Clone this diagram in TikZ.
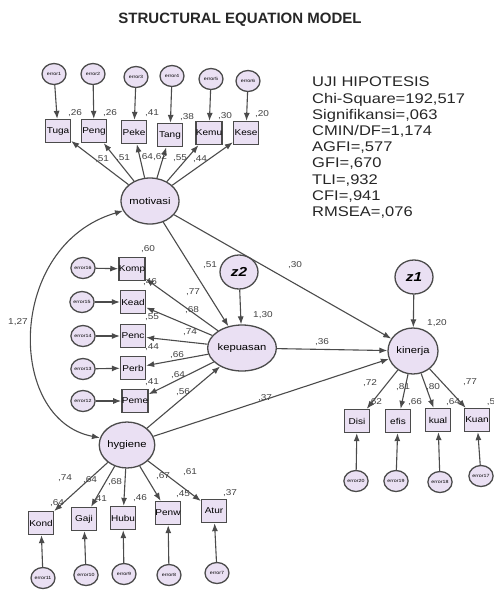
\documentclass[tikz,border=0pt]{standalone}
\usepackage{fontspec}
\setmainfont{Liberation Sans}[FakeStretch=1.18]
\newfontfamily\titlefont{Liberation Sans}
\usetikzlibrary{arrows.meta,shapes.geometric}
\definecolor{amosfill}{RGB}{234,224,243}
\definecolor{amosline}{RGB}{75,75,75}
\begin{document}
\begin{tikzpicture}[x=1pt, y=-1pt, >={Latex[length=8pt,width=6pt]},
    lat/.style={ellipse, draw=amosline, fill=amosfill, line width=1.3pt, minimum width=50pt, minimum height=46pt, inner sep=0pt, font=\fontsize{9.5}{9.5}\selectfont},
    res/.style={ellipse, draw=amosline, fill=amosfill, line width=1.3pt, minimum width=38pt, minimum height=34pt, inner sep=0pt, font=\fontsize{13}{13}\selectfont\bfseries\itshape},
    ind/.style={rectangle, draw=amosline, fill=amosfill, line width=1.3pt, minimum width=25pt, minimum height=23pt, inner sep=0pt, font=\fontsize{8.5}{8.5}\selectfont},
    err/.style={ellipse, draw=amosline, fill=amosfill, line width=1.3pt, minimum width=24pt, minimum height=21pt, inner sep=0pt, font=\fontsize{4.5}{4.5}\selectfont},
    lbl/.style={font=\fontsize{8.5}{8.5}\selectfont, text=black!75, inner sep=0pt},
    link/.style={->, draw=amosline, line width=1.1pt}]

  \useasboundingbox (0,0) rectangle (494,590);

  % ---------------- title and fit indices ----------------
  \node[font=\titlefont\bfseries\fontsize{15}{15}\selectfont, text=black!85] (title) at (240,20) {STRUCTURAL EQUATION MODEL};
  \node[anchor=north west, inner sep=0pt, align=left, font=\fontsize{14}{16.2}\selectfont, text=black!85] (fit) at (312,77)
    {UJI HIPOTESIS\\Chi-Square=192,517\\Signifikansi=,063\\CMIN/DF=1,174\\AGFI=,577\\GFI=,670\\TLI=,932\\CFI=,941\\RMSEA=,076};

  % ---------------- latent variables ----------------
  \node[lat] (motivasi) at (150,201) {motivasi};
  \node[lat] (kepuasan) at (242,348) {kepuasan};
  \node[lat] (kinerja)  at (413,351) {kinerja};
  \node[lat] (hygiene)  at (127,445) {hygiene};
  \node[res] (z2) at (239,272) {z2};
  \node[res] (z1) at (414,277) {z1};

  % ---------------- motivasi indicators ----------------
  \foreach \n/\x/\y/\ex/\ey/\k in {Tuga/58/131/54/74/1, Peng/94/131/93/74/2, Peke/134/132/136/77/3,
      Tang/170/135/172/76/4, Kemu/209/133/211/79/5, Kese/246/133/248/81/6} {
    \node[ind] (\n) at (\x,\y) {\n};
    \node[err] (error\k) at (\ex,\ey) {error\k};
    \draw[link] (error\k) -- (\n);
    \draw[link] (motivasi) -- (\n);
  }

  % ---------------- kepuasan indicators ----------------
  \foreach \n/\x/\y/\ex/\ey/\k in {Komp/132/269/83/268/16, Kead/133/302/82/302/15, Penc/133/336/83/336/14,
      Perb/133/368/83/369/13, Peme/135/401/83/401/12} {
    \node[ind] (\n) at (\x,\y) {\n};
    \node[err] (error\k) at (\ex,\ey) {error\k};
    \draw[link] (error\k) -- (\n);
    \draw[link] (kepuasan) -- (\n);
  }

  % ---------------- kinerja indicators ----------------
  \foreach \n/\x/\y/\ex/\ey/\k in {Disi/357/421/356/481/20, efis/398/421/396/481/19,
      kual/438/420/440/482/18, Kuan/477/420/481/476/17} {
    \node[ind] (\n) at (\x,\y) {\n};
    \node[err] (error\k) at (\ex,\ey) {error\k};
    \draw[link] (error\k) -- (\n);
    \draw[link] (kinerja) -- (\n);
  }

  % ---------------- hygiene indicators ----------------
  \foreach \n/\x/\y/\ex/\ey/\k in {Kond/41/523/43/578/11, Gaji/84/519/86/575/10, Hubu/123/518/124/574/9,
      Penw/168/513/169/575/8, Atur/214/511/217/573/7} {
    \node[ind] (\n) at (\x,\y) {\n};
    \node[err] (error\k) at (\ex,\ey) {error\k};
    \draw[link] (error\k) -- (\n);
    \draw[link] (hygiene) -- (\n);
  }

  % ---------------- structural paths ----------------
  \draw[link] (z2) -- (kepuasan);
  \draw[link] (z1) -- (kinerja);
  \draw[link] (motivasi) -- (kepuasan);
  \draw[link] (motivasi) -- (kinerja);
  \draw[link] (kepuasan) -- (kinerja);
  \draw[link] (hygiene) -- (kepuasan);
  \draw[link] (hygiene) -- (kinerja);
  \draw[link, <->] (motivasi.200) .. controls (6,245) and (6,420) .. (hygiene.165);

  % ---------------- estimates ----------------
  \foreach \t/\x/\y [count=\i] in {{,26}/75/113, {,26}/110/113, {,41}/152/113, {,38}/187/117, {,30}/225/116, {,20}/262/114,
      {,51}/102/159, {,51}/123/158, {,64}/146/157, {,62}/160/157, {,55}/180/158, {,44}/200/159,
      {,60}/148/249, {,46}/150/282, {,55}/152/317, {,44}/152/347, {,41}/152/382,
      {,77}/193/292, {,68}/192/310, {,74}/190/332, {,66}/177/355, {,64}/178/375, {,56}/183/392,
      {,51}/210/265, {1,30}/263/315, {,30}/295/265, {,36}/322/342, {,37}/265/398, {1,20}/437/323, {1,27}/18/322,
      {,72}/370/383, {,81}/403/387, {,80}/433/387, {,77}/470/382,
      {,62}/375/402, {,66}/415/402, {,64}/453/402, {,5}/491/402,
      {,74}/65/478, {,64}/90/480, {,68}/115/482, {,67}/163/476, {,61}/190/472,
      {,64}/57/503, {,41}/100/499, {,46}/140/498, {,45}/183/494, {,37}/230/493}
    \node[lbl] (est-\i) at (\x,\y) {\t};
\end{tikzpicture}
\end{document}
